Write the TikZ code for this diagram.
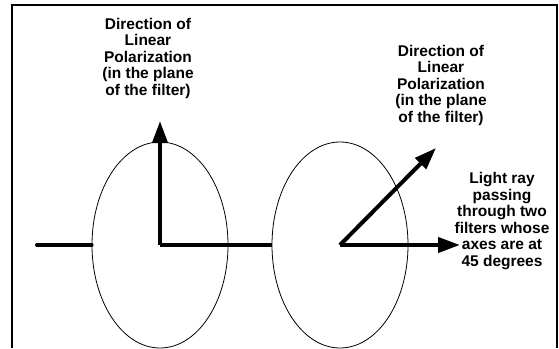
\documentclass[tikz,border=0pt]{standalone}
\usepackage{fontspec}
\setmainfont{Liberation Sans}
\usetikzlibrary{arrows.meta,positioning,shapes.geometric}

\begin{document}
\begin{tikzpicture}[
    x=1pt, y=-1pt,
    filter/.style={ellipse, draw, line width=0.8pt, minimum width=136pt, minimum height=206pt, inner sep=0pt},
    ray/.style={line width=4pt, line cap=round},
    axis/.style={line width=4pt, -{Triangle[length=22pt,width=15pt]}},
    note/.style={align=center, font=\bfseries\fontsize{15.5}{16.5}\selectfont, inner sep=0pt}
  ]
    \useasboundingbox (0,0) rectangle (559,348);
    \draw[line width=2pt] (12,348) -- (12,5) -- (557,5) -- (557,348);

    \node[filter] (filterA) at (160,245) {};
    \node[filter] (filterB) at (340,245) {};

    \coordinate (source) at (37,245);
    \coordinate (tipA) at (160,121);
    \coordinate (tipB) at (436,148);
    \coordinate (tipRay) at (460,245);

    \draw[ray] (source) -- (filterA.west);
    \draw[ray, line cap=butt] (filterA.center) -- (filterB.west);
    \draw[axis] (filterA.center) -- (tipA);
    \draw[axis] (filterB.center) -- (tipB);
    \draw[axis] (filterB.center) -- (tipRay);

    \node[note] (polA) at (148,58) {Direction of\\Linear\\Polarization\\(in the plane\\of the filter)};
    \node[note] (polB) at (441,85) {Direction of\\Linear\\Polarization\\(in the plane\\of the filter)};
    \node[note] (rayText) at (502,221) {Light ray\\passing\\through two\\filters whose\\axes are at\\45 degrees};
  \end{tikzpicture}
\end{document}
